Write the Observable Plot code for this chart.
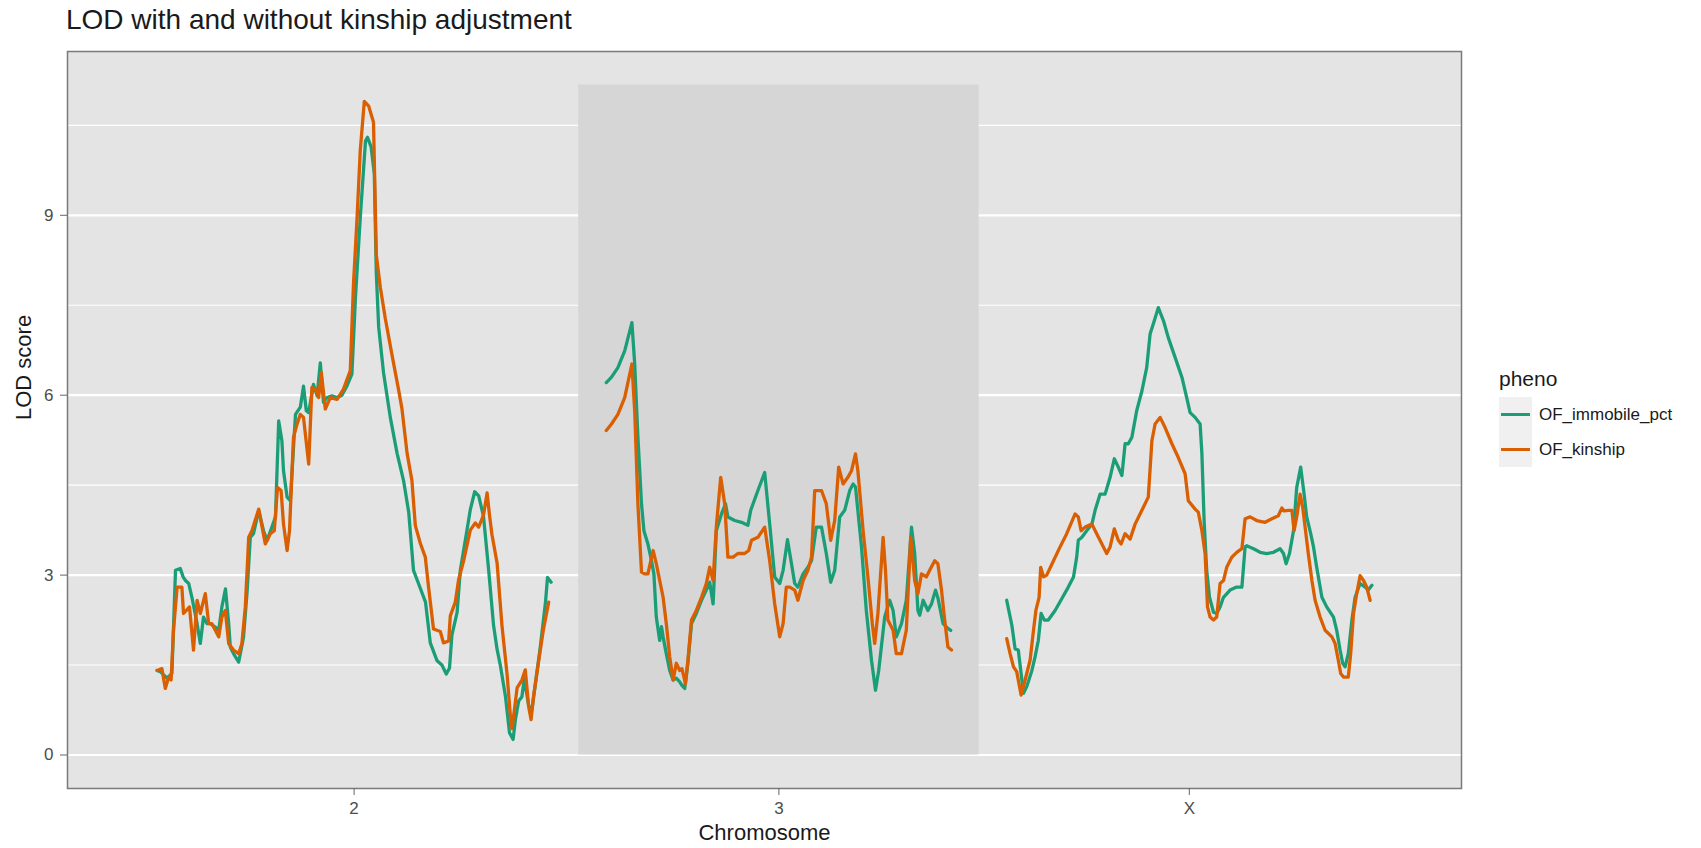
<!DOCTYPE html>
<html>
<head>
<meta charset="utf-8">
<script src="https://cdn.jsdelivr.net/npm/d3@7"></script>
<script src="https://cdn.jsdelivr.net/npm/@observablehq/plot@0.6"></script>
<style>
  body { margin: 0; background: #fff; font-family: "Liberation Sans", Arial, Helvetica, sans-serif; }
  #page { position: relative; width: 1701px; height: 848px; overflow: hidden; background: #fff; }
  #title { position: absolute; left: 66px; top: 6px; font-size: 28px; line-height: 1; color: #1a1a1a; white-space: nowrap; }
  #chart { position: absolute; left: 0; top: 45px; }
  #legend { position: absolute; left: 1499px; top: 368px; color: #1a1a1a; }
  #legend .ltitle { font-size: 21px; line-height: 1; height: 29px; }
  #legend .row { display: flex; align-items: center; height: 35px; }
  #legend .key { width: 33px; height: 35px; background: #f0f0f0; display: flex; align-items: center; justify-content: center; }
  #legend .key span { display: block; width: 29px; height: 3px; }
  #legend .lab { font-size: 17px; margin-left: 7px; white-space: nowrap; color: #1a1a1a; }
</style>
</head>
<body>
<div id="page">
  <div id="title">LOD with and without kinship adjustment</div>
  <div id="chart"></div>
  <div id="legend"></div>
</div>
<script>
// Chromosomes and phenotypes
const chromosomes = ["2", "3", "X"];
const phenos = ["OF_immobile_pct", "OF_kinship"];
const phenoColors = ["#1b9e77", "#d95f02"];
const majorTicks = [0, 3, 6, 9];
const minorTicks = [1.5, 4.5, 7.5, 10.5];

// Chromosome 2 — marker positions (cM) and LOD scores
const chr2PosImmobile = [1.7,2.5,4.2,5.4,6.3,7.5,8.2,8.8,9.6,10.4,11.7,12.5,13.3,14.2,15.0,16.3,17.1,17.9,18.8,19.6,20.0,20.8,22.1,23.3,24.2,25.0,25.8,27.1,28.3,29.2,30.4,31.3,32.1,32.9,33.3,34.2,35.0,36.3,37.5,38.3,39.0,39.6,40.8,41.7,42.5,43.3,44.2,45.4,46.7,47.9,49.2,50.4,51.3,52.5,53.8,54.3,55.2,56.0,56.5,57.1,58.3,60.0,61.7,63.3,64.6,65.8,67.5,68.8,70.0,71.7,72.9,74.0,74.8,75.4,76.7,77.5,79.0,80.0,81.1,82.1,83.3,84.6,85.8,86.7,87.5,88.8,89.8,90.7,91.3,92.1,92.9,93.5,94.6,95.4,96.3,97.5,98.8,99.3,100.2];
const chr2LodImmobile = [1.41,1.39,1.28,1.36,3.08,3.11,2.97,2.91,2.86,2.63,2.19,1.86,2.30,2.19,2.19,2.13,2.08,2.47,2.77,2.19,1.80,1.69,1.55,1.96,2.72,3.63,3.69,4.08,3.74,3.58,3.80,3.97,5.57,5.24,4.74,4.30,4.24,5.68,5.80,6.15,5.74,5.71,6.18,5.99,6.54,5.88,5.96,5.99,5.96,6.00,6.16,6.35,7.64,8.97,10.24,10.30,10.14,9.69,8.04,7.13,6.38,5.63,5.03,4.58,4.05,3.08,2.78,2.55,1.87,1.57,1.50,1.35,1.45,2.00,2.38,3.08,3.68,4.09,4.39,4.32,3.98,3.08,2.17,1.76,1.50,0.97,0.37,0.26,0.60,0.90,0.97,1.27,0.82,0.75,1.20,1.80,2.55,2.96,2.88];
const chr2PosKinship = [1.7,2.9,3.75,4.6,5.2,5.8,6.7,7.9,8.3,9.0,9.8,10.8,11.7,12.5,13.75,14.6,15.4,16.25,17.1,17.9,18.75,19.6,20.8,22.1,22.9,23.75,24.6,25.4,27.1,28.75,30.0,31.0,31.8,32.7,33.3,34.2,34.8,35.8,36.7,37.5,38.3,39.6,40.4,41.25,42.1,42.75,43.75,45.0,46.7,48.3,50.0,50.8,51.7,52.5,53.5,54.6,55.8,56.5,57.5,58.75,60.4,62.1,62.9,64.2,65.4,66.25,67.5,68.75,69.6,70.8,72.5,73.3,74.6,75.0,76.25,77.1,78.3,80.0,81.25,82.1,83.3,84.2,84.8,85.4,86.7,87.4,87.9,89.2,90.0,90.4,91.0,91.7,92.9,93.75,94.6,95.2,95.8,97.1,98.3,99.6];
const chr2LodKinship = [1.41,1.44,1.11,1.30,1.25,2.08,2.80,2.80,2.36,2.41,2.47,1.75,2.58,2.36,2.69,2.19,2.19,2.08,1.97,2.30,2.41,1.86,1.75,1.69,1.86,2.47,3.63,3.74,4.10,3.52,3.69,3.74,4.46,4.41,3.85,3.41,3.74,5.30,5.52,5.68,5.63,4.85,6.13,6.10,5.96,6.38,5.77,5.96,5.93,6.10,6.41,7.86,8.97,10.09,10.90,10.82,10.55,8.34,7.80,7.28,6.68,6.08,5.78,5.03,4.58,3.83,3.53,3.30,2.78,2.10,2.06,1.87,1.90,2.32,2.55,2.93,3.23,3.75,3.87,3.80,4.00,4.37,4.00,3.68,3.20,2.60,2.17,1.34,0.67,0.44,0.74,1.12,1.25,1.42,0.80,0.59,0.97,1.57,2.10,2.55];

// Chromosome 3
const chr3PosImmobile = [2.9,4.2,5.8,7.5,9.3,10.0,10.8,11.7,12.3,13.3,14.2,14.8,15.4,16.25,16.7,17.1,17.9,18.75,19.6,20.4,21.25,21.8,22.5,23.3,24.2,25.4,26.7,27.9,28.75,29.6,30.4,31.7,32.7,33.3,35.0,36.7,38.3,39.0,40.8,42.5,43.75,45.0,46.25,47.1,48.2,49.2,50.0,50.8,52.1,53.3,54.2,55.4,56.7,57.9,59.0,60.0,61.25,62.5,63.75,64.6,65.2,66.7,67.9,69.2,70.2,71.0,72.5,73.75,74.6,75.4,76.7,77.9,79.2,80.0,80.8,81.25,82.1,83.3,84.2,85.2,85.8,87.1,88.3,89.0];
const chr3LodImmobile = [6.21,6.30,6.46,6.74,7.21,6.52,5.30,4.19,3.74,3.52,3.24,3.02,2.30,1.91,2.14,1.97,1.69,1.41,1.25,1.28,1.22,1.16,1.11,1.53,2.19,2.36,2.58,2.75,2.88,2.52,3.74,4.02,4.19,3.97,3.91,3.88,3.83,4.08,4.41,4.71,3.85,2.97,2.86,3.08,3.59,3.19,2.86,2.80,3.02,3.13,3.24,3.80,3.80,3.36,2.88,3.08,3.97,4.08,4.41,4.52,4.47,3.47,2.41,1.58,1.08,1.41,2.30,2.58,2.41,1.97,2.19,2.58,3.80,3.36,2.41,2.33,2.58,2.41,2.52,2.75,2.62,2.19,2.11,2.08];
const chr3PosKinship = [2.9,4.2,5.8,7.5,9.3,10.0,10.8,11.7,12.5,13.3,14.6,15.4,16.25,17.1,17.9,18.75,19.6,20.4,21.25,21.8,22.7,23.3,24.2,25.4,26.7,27.9,28.75,29.6,30.4,31.5,32.5,33.3,34.6,35.8,37.5,38.5,39.2,40.8,42.5,43.75,45.0,46.25,47.1,47.9,48.75,50.0,50.8,52.1,53.3,54.2,55.0,56.7,57.9,59.0,60.0,61.0,62.1,63.3,64.2,65.2,65.8,67.1,68.3,69.4,70.0,70.8,72.1,72.7,73.3,74.6,75.4,76.7,77.9,79.0,80.0,80.8,81.7,82.9,83.75,85.0,85.8,86.7,87.5,88.3,89.2];
const chr3LodKinship = [5.41,5.52,5.68,5.96,6.52,5.74,4.19,3.05,3.02,3.02,3.41,3.19,2.91,2.63,2.19,1.64,1.25,1.53,1.41,1.44,1.19,1.58,2.25,2.41,2.63,2.86,3.13,2.91,3.80,4.63,4.19,3.30,3.30,3.36,3.36,3.41,3.58,3.63,3.80,3.24,2.52,1.97,2.19,2.80,2.80,2.75,2.58,2.91,3.08,3.30,4.41,4.41,4.19,3.58,3.91,4.80,4.52,4.63,4.74,5.02,4.74,3.74,2.97,2.19,1.86,2.36,3.63,3.08,2.25,2.08,1.69,1.69,2.08,3.63,2.91,2.69,3.02,2.97,3.08,3.24,3.19,2.75,2.25,1.80,1.75];

// Chromosome X
const chrXPosImmobile = [2.9,4.2,5.0,5.8,6.5,7.1,7.9,9.2,10.0,10.8,11.5,12.3,13.3,15.0,16.7,18.3,19.6,20.4,20.8,21.7,22.9,24.2,25.0,26.25,27.5,28.75,29.8,30.8,31.7,32.5,33.3,34.2,35.4,36.7,37.9,38.75,39.8,40.8,42.1,43.3,45.0,46.7,47.9,48.75,50.0,51.25,51.7,52.25,52.9,53.6,54.6,55.4,56.25,57.1,58.75,60.4,61.7,62.5,62.9,64.6,66.25,67.9,69.6,71.25,72.1,72.75,73.6,74.6,75.4,76.4,77.25,77.9,78.9,79.6,80.4,81.7,82.9,84.6,85.4,86.25,86.9,87.5,88.3,89.2,90.0,91.25,92.5,93.3,94.2];
const chrXLodImmobile = [2.58,2.16,1.77,1.75,1.36,1.03,1.14,1.41,1.64,1.91,2.36,2.25,2.25,2.41,2.61,2.80,2.97,3.30,3.58,3.63,3.74,3.85,4.08,4.35,4.35,4.63,4.94,4.80,4.66,5.19,5.19,5.30,5.74,6.07,6.46,7.02,7.24,7.46,7.24,6.96,6.63,6.30,5.96,5.71,5.63,5.52,5.02,3.91,3.08,2.63,2.38,2.36,2.47,2.63,2.75,2.80,2.80,3.47,3.49,3.44,3.38,3.36,3.38,3.44,3.36,3.19,3.36,3.74,4.46,4.80,4.35,3.97,3.69,3.47,3.13,2.63,2.47,2.30,2.08,1.75,1.53,1.47,1.69,2.25,2.63,2.86,2.80,2.75,2.83];
const chrXPosKinship = [2.9,3.75,4.6,5.4,6.5,7.5,8.75,9.6,10.2,11.0,11.4,12.1,12.9,14.6,16.25,17.9,20.0,20.8,21.5,22.5,24.2,25.4,26.7,27.9,28.75,29.8,30.8,31.5,32.5,33.75,35.0,36.7,38.3,39.2,40.0,41.25,42.5,44.2,45.8,47.5,48.3,50.0,50.8,51.7,52.5,53.1,53.75,54.6,55.4,56.25,57.1,57.9,59.2,60.4,61.7,62.5,63.75,65.4,67.5,69.2,70.8,71.7,72.25,73.3,74.2,74.75,75.4,76.25,76.9,77.5,78.3,79.2,80.0,81.25,82.5,84.2,85.0,85.8,86.4,87.1,88.3,88.9,89.6,90.4,91.25,92.1,92.9,93.75];
const chrXLodKinship = [1.94,1.69,1.47,1.39,1.00,1.25,1.58,2.08,2.41,2.63,3.13,2.97,3.00,3.24,3.47,3.69,4.02,3.97,3.74,3.80,3.85,3.69,3.52,3.36,3.47,3.77,3.58,3.52,3.69,3.60,3.85,4.08,4.30,5.24,5.52,5.63,5.46,5.19,4.96,4.69,4.24,4.10,4.05,3.74,3.36,2.47,2.30,2.25,2.30,2.86,2.91,3.13,3.30,3.38,3.44,3.94,3.97,3.91,3.88,3.94,3.99,4.12,4.07,4.08,4.08,3.74,3.97,4.35,4.13,3.80,3.36,2.91,2.58,2.30,2.08,1.97,1.86,1.58,1.36,1.30,1.30,1.69,2.36,2.69,2.99,2.91,2.80,2.58];

const markerPos = {
  "2": [chr2PosImmobile, chr2PosKinship],
  "3": [chr3PosImmobile, chr3PosKinship],
  "X": [chrXPosImmobile, chrXPosKinship]
};
const markerLod = {
  "2": [chr2LodImmobile, chr2LodKinship],
  "3": [chr3LodImmobile, chr3LodKinship],
  "X": [chrXLodImmobile, chrXLodKinship]
};

// Lay chromosomes end to end on one genome axis, separated by a fixed gap
const GAP = 13.8;
const X_PAD = 22.4;
const chrInfo = [];
chromosomes.forEach((chr, i) => {
  const all = markerPos[chr].flat();
  const lo = d3.min(all), hi = d3.max(all);
  const offset = i === 0 ? 0 : chrInfo[i - 1].end + GAP - lo;
  chrInfo.push({chr, offset, start: offset + lo, end: offset + hi});
});

const rows = [];
phenos.forEach((pheno, p) => {
  chrInfo.forEach(info => {
    const pos = markerPos[info.chr][p];
    const lod = markerLod[info.chr][p];
    pos.forEach((x, j) => rows.push({chr: info.chr, pheno, pos: info.offset + x, lod: lod[j]}));
  });
});

// Alternate chromosomes get a shaded band spanning half the gap on each side
const bands = chrInfo
  .map((d, i) => ({d, i}))
  .filter(({i}) => i % 2 === 1)
  .map(({d, i}) => ({
    x1: (chrInfo[i - 1].end + d.start) / 2,
    x2: i + 1 < chrInfo.length ? (d.end + chrInfo[i + 1].start) / 2 : d.end + GAP / 2
  }));

const yTop = d3.max(rows, d => d.lod) * 1.025;
const tickPos = chrInfo.map(d => (d.start + d.end) / 2);
const nameByPos = new Map(chrInfo.map((d, i) => [tickPos[i], d.chr]));
const xDomain = [chrInfo[0].start - X_PAD, chrInfo[chrInfo.length - 1].end + X_PAD];

const fontFamily = '"Liberation Sans", Arial, Helvetica, sans-serif';

const chart = Plot.plot({
  width: 1701,
  height: 803,
  marginLeft: 67,
  marginRight: 240,
  marginTop: 6,
  marginBottom: 60,
  style: {fontFamily, background: "transparent", color: "#4d4d4d", overflow: "visible"},
  x: {domain: xDomain},
  y: {domain: [-0.05 * yTop, 1.05 * yTop]},
  color: {domain: phenos, range: phenoColors},
  marks: [
    Plot.frame({fill: "#e4e4e4"}),
    Plot.gridY(minorTicks, {stroke: "#ffffff", strokeOpacity: 1, strokeWidth: 1.1}),
    Plot.gridY(majorTicks, {stroke: "#ffffff", strokeOpacity: 1, strokeWidth: 2.2}),
    Plot.rect(bands, {x1: "x1", x2: "x2", y1: 0, y2: yTop, fill: "#d6d6d6"}),
    Plot.line(rows, {
      x: "pos", y: "lod",
      z: d => d.pheno + ":" + d.chr,
      stroke: "pheno", strokeWidth: 3.3
    }),
    Plot.frame({stroke: "#7a7a7a", strokeWidth: 1.5}),
    Plot.axisX(tickPos, {
      tickFormat: d => nameByPos.get(d),
      tickSize: 7, tickPadding: 6, fontSize: 17,
      stroke: "#666", fill: "#4d4d4d", label: null
    }),
    Plot.axisY(majorTicks, {
      tickFormat: d => String(d),
      tickSize: 7, tickPadding: 7, fontSize: 17,
      stroke: "#666", fill: "#4d4d4d", label: null
    }),
    Plot.text(["Chromosome"], {frameAnchor: "bottom", dy: 51, fontSize: 22, fill: "#1a1a1a"}),
    Plot.text(["LOD score"], {frameAnchor: "left", dx: -44, rotate: -90, fontSize: 22, fill: "#1a1a1a"})
  ]
});
document.getElementById("chart").appendChild(chart);

// Legend: one key per phenotype, coloured from the same scale
const legend = document.getElementById("legend");
const lt = document.createElement("div");
lt.className = "ltitle";
lt.textContent = "pheno";
legend.appendChild(lt);
phenos.forEach((p) => {
  const row = document.createElement("div");
  row.className = "row";
  const key = document.createElement("div");
  key.className = "key";
  const sw = document.createElement("span");
  sw.style.background = chart.scale("color").apply(p);
  key.appendChild(sw);
  const lab = document.createElement("div");
  lab.className = "lab";
  lab.textContent = p;
  row.appendChild(key);
  row.appendChild(lab);
  legend.appendChild(row);
});
</script>
</body>
</html>
